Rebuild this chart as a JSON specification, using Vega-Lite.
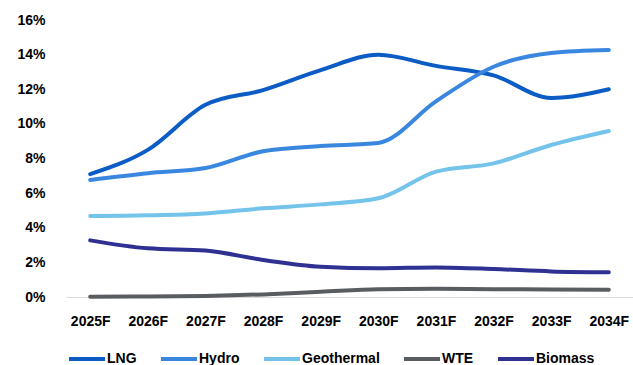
{
  "$schema": "https://vega.github.io/schema/vega-lite/v6.json",
  "autosize": "none",
  "width": 567,
  "height": 277,
  "padding": {"left": 66, "top": 20, "right": 0, "bottom": 68},
  "background": "white",
  "config": {
    "view": {"stroke": null},
    "font": "Liberation Sans"
  },
  "data": {
    "values": [
      {"year": "2025F", "series": "LNG", "value": 7.1},
      {"year": "2026F", "series": "LNG", "value": 8.5},
      {"year": "2027F", "series": "LNG", "value": 11.1},
      {"year": "2028F", "series": "LNG", "value": 11.95},
      {"year": "2029F", "series": "LNG", "value": 13.1},
      {"year": "2030F", "series": "LNG", "value": 14.0},
      {"year": "2031F", "series": "LNG", "value": 13.35},
      {"year": "2032F", "series": "LNG", "value": 12.8},
      {"year": "2033F", "series": "LNG", "value": 11.5},
      {"year": "2034F", "series": "LNG", "value": 12.0},
      {"year": "2025F", "series": "Hydro", "value": 6.76},
      {"year": "2026F", "series": "Hydro", "value": 7.15},
      {"year": "2027F", "series": "Hydro", "value": 7.45},
      {"year": "2028F", "series": "Hydro", "value": 8.42},
      {"year": "2029F", "series": "Hydro", "value": 8.72},
      {"year": "2030F", "series": "Hydro", "value": 8.9},
      {"year": "2031F", "series": "Hydro", "value": 11.3},
      {"year": "2032F", "series": "Hydro", "value": 13.3},
      {"year": "2033F", "series": "Hydro", "value": 14.1},
      {"year": "2034F", "series": "Hydro", "value": 14.27},
      {"year": "2025F", "series": "Geothermal", "value": 4.68},
      {"year": "2026F", "series": "Geothermal", "value": 4.72},
      {"year": "2027F", "series": "Geothermal", "value": 4.83},
      {"year": "2028F", "series": "Geothermal", "value": 5.12},
      {"year": "2029F", "series": "Geothermal", "value": 5.35},
      {"year": "2030F", "series": "Geothermal", "value": 5.7},
      {"year": "2031F", "series": "Geothermal", "value": 7.24},
      {"year": "2032F", "series": "Geothermal", "value": 7.72},
      {"year": "2033F", "series": "Geothermal", "value": 8.78},
      {"year": "2034F", "series": "Geothermal", "value": 9.59},
      {"year": "2025F", "series": "WTE", "value": 0.02},
      {"year": "2026F", "series": "WTE", "value": 0.03},
      {"year": "2027F", "series": "WTE", "value": 0.06},
      {"year": "2028F", "series": "WTE", "value": 0.15},
      {"year": "2029F", "series": "WTE", "value": 0.3},
      {"year": "2030F", "series": "WTE", "value": 0.45},
      {"year": "2031F", "series": "WTE", "value": 0.47},
      {"year": "2032F", "series": "WTE", "value": 0.45},
      {"year": "2033F", "series": "WTE", "value": 0.44},
      {"year": "2034F", "series": "WTE", "value": 0.42},
      {"year": "2025F", "series": "Biomass", "value": 3.27},
      {"year": "2026F", "series": "Biomass", "value": 2.81},
      {"year": "2027F", "series": "Biomass", "value": 2.68},
      {"year": "2028F", "series": "Biomass", "value": 2.14},
      {"year": "2029F", "series": "Biomass", "value": 1.75},
      {"year": "2030F", "series": "Biomass", "value": 1.66},
      {"year": "2031F", "series": "Biomass", "value": 1.71},
      {"year": "2032F", "series": "Biomass", "value": 1.62},
      {"year": "2033F", "series": "Biomass", "value": 1.48},
      {"year": "2034F", "series": "Biomass", "value": 1.43}
    ]
  },
  "mark": {"type": "line", "interpolate": "monotone", "strokeWidth": 4, "strokeCap": "round"},
  "encoding": {
    "x": {
      "field": "year",
      "type": "ordinal",
      "scale": {"type": "point", "padding": 0.42},
      "axis": {
        "title": null,
        "labelAngle": 0,
        "labelFont": "Liberation Sans",
        "labelFontSize": 14,
        "labelFontWeight": "bold",
        "labelColor": "#000000",
        "labelPadding": 17,
        "ticks": false,
        "domainColor": "#D9D9D9",
        "domainWidth": 1,
        "grid": false
      }
    },
    "y": {
      "field": "value",
      "type": "quantitative",
      "scale": {"domain": [0, 16], "nice": false},
      "axis": {
        "title": null,
        "values": [0, 2, 4, 6, 8, 10, 12, 14, 16],
        "labelExpr": "datum.value + '%'",
        "labelFont": "Liberation Sans",
        "labelFontSize": 14,
        "labelFontWeight": "bold",
        "labelColor": "#000000",
        "labelPadding": 21,
        "ticks": false,
        "domain": false,
        "grid": false
      }
    },
    "color": {
      "field": "series",
      "type": "nominal",
      "sort": ["LNG", "Hydro", "Geothermal", "WTE", "Biomass"],
      "scale": {
        "domain": ["LNG", "Hydro", "Geothermal", "WTE", "Biomass"],
        "range": ["#0B5CC5", "#3A87E0", "#74C3EA", "#595C60", "#2E3192"]
      },
      "legend": {
        "title": null,
        "orient": "none",
        "direction": "horizontal",
        "legendX": 1,
        "legendY": 319,
        "symbolType": "stroke",
        "symbolSize": 1296,
        "symbolStrokeWidth": 4,
        "labelFont": "Liberation Sans",
        "labelFontSize": 14,
        "labelFontWeight": "bold",
        "labelColor": "#000000",
        "labelOffset": 0,
        "columnPadding": 16
      }
    }
  }
}
